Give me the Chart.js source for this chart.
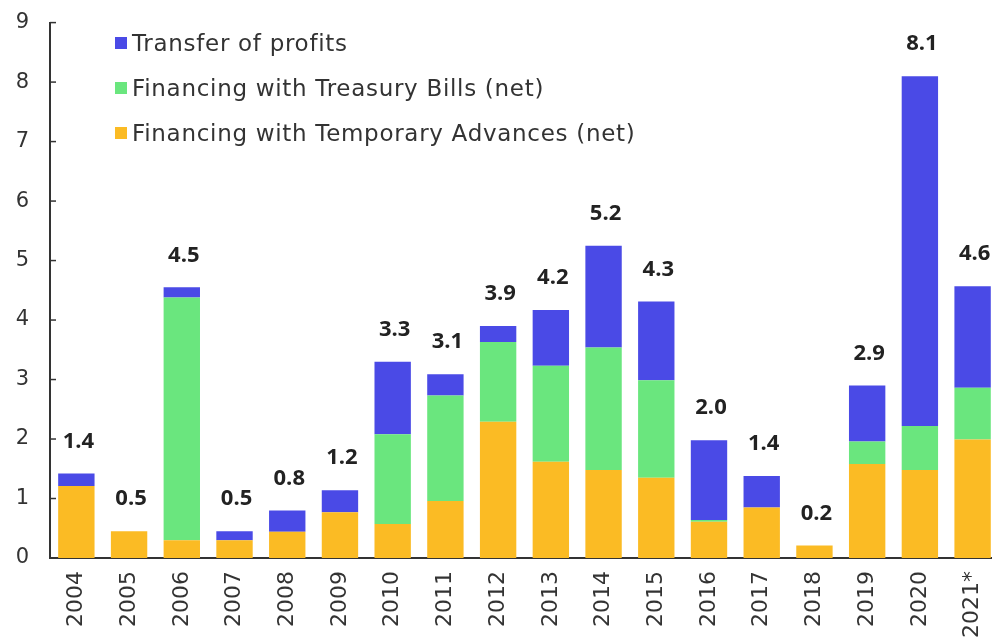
<!DOCTYPE html>
<html>
<head>
<meta charset="utf-8">
<script src="https://cdn.jsdelivr.net/npm/chart.js@4.4.0/dist/chart.umd.min.js"></script>
<style>
  html, body { margin: 0; padding: 0; background: #fff; overflow: hidden; }
  #wrap { position: relative; width: 1012px; height: 638px; overflow: hidden; }
  #chart { position: absolute; left: 0; top: -11px; }
  #legend { position: absolute; left: 115px; top: 20px; font-family: "DejaVu Sans", sans-serif; font-size: 23px; color: #333; letter-spacing: 0.7px; }
  #legend div { display: flex; align-items: center; height: 45px; }
  #legend span.box { display: inline-block; width: 12px; height: 12px; margin-right: 5px; }
</style>
</head>
<body>
<div id="wrap">
  <canvas id="chart" width="1012" height="649"></canvas>
  <div id="legend"></div>
</div>
<script>
// DATA
const years = ["2004", "2005", "2006", "2007", "2008", "2009", "2010", "2011", "2012",
  "2013", "2014", "2015", "2016", "2017", "2018", "2019", "2020", "2021*"];
const temporaryAdvances = [1.21, 0.45, 0.30, 0.30, 0.44, 0.77, 0.57, 0.96, 2.29,
  1.62, 1.48, 1.35, 0.61, 0.85, 0.21, 1.58, 1.48, 1.99];
const treasuryBills = [0, 0, 4.08, 0, 0, 0, 1.51, 1.77, 1.34,
  1.61, 2.06, 1.64, 0.03, 0, 0, 0.38, 0.74, 0.87];
const transferProfits = [0.21, 0, 0.17, 0.15, 0.36, 0.37, 1.22, 0.36, 0.27,
  0.94, 1.71, 1.32, 1.34, 0.53, 0, 0.94, 5.88, 1.71];
const totalLabels = ["1.4", "0.5", "4.5", "0.5", "0.8", "1.2", "3.3", "3.1", "3.9",
  "4.2", "5.2", "4.3", "2.0", "1.4", "0.2", "2.9", "8.1", "4.6"];
const yTicks = [0, 1, 2, 3, 4, 5, 6, 7, 8, 9];

const seriesNames = ["Financing with Temporary Advances (net)", "Financing with Treasury Bills (net)", "Transfer of profits"];
const seriesColors = ["#fbbb24", "#6ae67e", "#4a4ae6"];

// LEGEND (top series first)
const legend = document.getElementById("legend");
for (let i = seriesNames.length - 1; i >= 0; i--) {
  const row = document.createElement("div");
  row.innerHTML = `<span class="box" style="background:${seriesColors[i]}"></span>${seriesNames[i]}`;
  legend.appendChild(row);
}

// total labels above bars + inside y ticks
const extras = {
  id: "extras",
  afterDatasetsDraw(chart) {
    const ctx = chart.ctx;
    const top = chart.getDatasetMeta(2).data;
    ctx.save();
    ctx.font = "bold 22px 'Open Sans', sans-serif";
    ctx.fillStyle = "#222";
    ctx.textAlign = "center";
    ctx.textBaseline = "middle";
    top.forEach((bar, i) => ctx.fillText(totalLabels[i], bar.x + 2, bar.y - 32));

    const y = chart.scales.y;
    ctx.strokeStyle = "#333";
    ctx.lineWidth = 1.5;
    yTicks.forEach(v => {
      const py = y.getPixelForValue(v);
      ctx.beginPath();
      ctx.moveTo(y.right, py);
      ctx.lineTo(y.right + 6, py);
      ctx.stroke();
    });
    ctx.restore();
  }
};

new Chart(document.getElementById("chart"), {
  type: "bar",
  data: {
    labels: years,
    datasets: seriesNames.map((name, i) => ({
      label: name,
      data: [temporaryAdvances, treasuryBills, transferProfits][i],
      backgroundColor: seriesColors[i],
      barPercentage: 0.69,
      categoryPercentage: 1
    }))
  },
  options: {
    responsive: false,
    animation: false,
    layout: { padding: { top: 1, right: 0, left: 0, bottom: 0 } },
    plugins: { legend: { display: false }, tooltip: { enabled: false } },
    scales: {
      x: {
        stacked: true,
        grid: { display: false, drawTicks: false },
        border: { display: true, color: "#333", width: 2 },
        ticks: {
          color: "#333",
          font: { family: "DejaVu Sans", size: 22 },
          minRotation: 90,
          maxRotation: 90,
          padding: 13
        },
        afterFit: s => { s.height = 80; }
      },
      y: {
        stacked: true,
        min: 0,
        max: 9,
        afterBuildTicks: s => { s.ticks = yTicks.map(v => ({ value: v })); },
        grid: { display: false, drawTicks: false },
        border: { display: true, color: "#333", width: 2 },
        ticks: {
          color: "#333",
          font: { family: "DejaVu Sans", size: 21 },
          padding: 21
        },
        afterFit: s => { s.width = 50; }
      }
    }
  },
  plugins: [extras]
});
</script>
</body>
</html>
